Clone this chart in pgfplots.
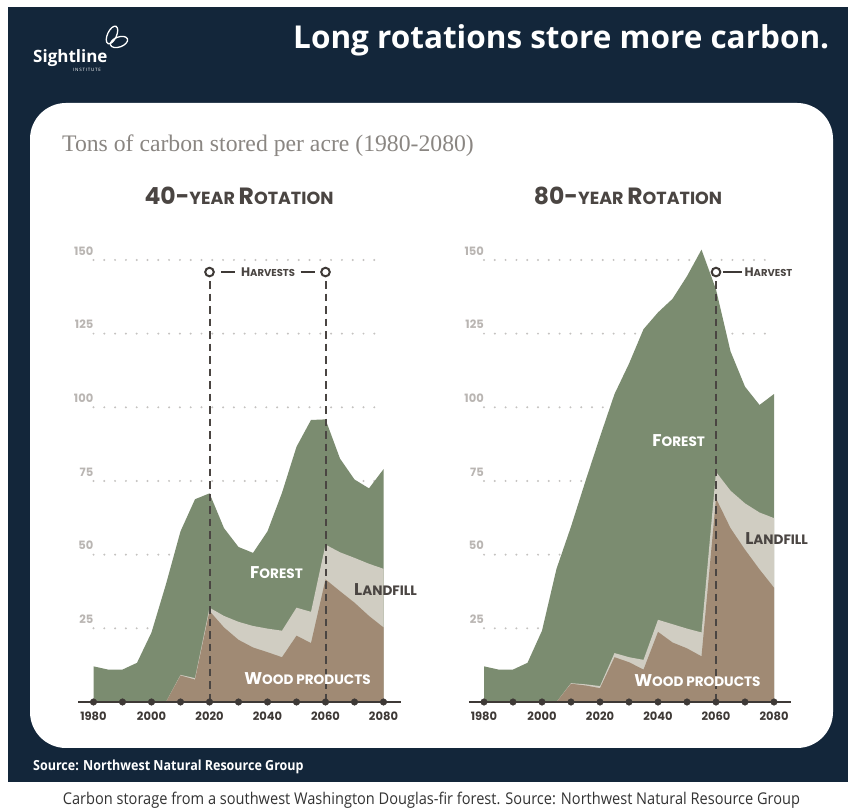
\documentclass[border=0pt]{standalone}
\usepackage{pgfplots}
\pgfplotsset{compat=1.18}
\usepackage{pgfplotstable}
\usepackage{fontspec}
\setmainfont{Open Sans}
\newfontfamily\pop{Poppins}
\newfontfamily\serifhead{Liberation Serif}
\newfontfamily\capfont[FakeStretch=0.9]{Open Sans}

\definecolor{navy}{HTML}{13263A}
\definecolor{forest}{HTML}{7B8C70}
\definecolor{wood}{HTML}{A08A74}
\definecolor{landfill}{HTML}{D0CDC2}
\definecolor{axisdark}{HTML}{3E3936}
\definecolor{textdark}{HTML}{4A4542}
\definecolor{gridgray}{HTML}{C4C2C0}
\definecolor{ylab}{HTML}{B9B5B2}
\definecolor{subgray}{HTML}{8A8682}

\newcommand{\fs}[2]{{\fontsize{#1}{#1}\selectfont #2}}

% 40-year rotation: tons of carbon per acre
\pgfplotstableread{
year total
1980 12.1
1985 11.0
1990 11.0
1995 13.3
2000 23.6
2005 40.0
2010 57.9
2015 68.8
2020 70.8
2025 59.0
2030 52.6
2035 50.6
2040 57.9
2045 71.0
2050 86.6
2055 95.7
2060 95.9
2065 82.6
2070 75.5
2075 72.5
2080 79.0
}\leftforest
\pgfplotstableread{
year top
2005 0
2010 9.2
2015 8.1
2020 32.0
2025 29.2
2030 27.2
2035 25.8
2040 24.9
2045 24.2
2050 32.0
2055 30.6
2060 53.4
2065 50.8
2070 48.9
2075 46.9
2080 45.2
}\leftlandfill
\pgfplotstableread{
year top
2005 0
2010 9.0
2015 7.6
2020 30.9
2025 25.3
2030 21.1
2035 18.5
2040 16.9
2045 15.2
2050 22.5
2055 20.0
2060 41.6
2065 37.6
2070 33.7
2075 29.2
2080 25.3
}\leftwood

% 80-year rotation
\pgfplotstableread{
year total
1980 12.1
1985 11.0
1990 11.0
1995 13.3
2000 24.2
2005 45.2
2010 59.5
2015 75.0
2020 90.0
2025 104.5
2030 114.8
2035 126.5
2040 132.2
2045 136.8
2050 144.5
2055 153.5
2060 140.0
2065 119.0
2070 107.0
2075 100.8
2080 104.5
}\rightforest
\pgfplotstableread{
year top
2005 0
2010 6.4
2015 6.0
2020 5.4
2025 16.6
2030 15.2
2035 14.3
2040 27.9
2045 26.4
2050 24.9
2055 23.6
2060 78.1
2065 71.7
2070 67.4
2075 64.3
2080 62.4
}\rightlandfill
\pgfplotstableread{
year top
2005 0
2010 6.2
2015 5.6
2020 4.7
2025 15.2
2030 13.5
2035 11.0
2040 23.8
2045 20.2
2050 18.2
2055 15.5
2060 69.1
2065 59.0
2070 51.7
2075 45.0
2080 38.8
}\rightwood

\pgfplotsset{
  rotationaxis/.style={
    scale only axis, width=290pt, height=471.5pt,
    anchor=south west,
    xmin=1980, xmax=2080, ymin=0, ymax=160,
    clip=false,
    axis line style={draw=none},
    major tick length=0pt,
    tick style={draw=none},
    xtick={1980,2000,...,2080},
    ytick={25,50,...,150},
    ymajorgrids,
    grid style={line width=2.2pt, line cap=round, dash pattern=on 0pt off 10.8pt, gridgray},
    /pgf/number format/1000 sep={},
    /pgf/number format/assume math mode=true,
    ticklabel style={font=\pop\bfseries\fontsize{11.5}{12}\selectfont},
    xticklabel style={text=axisdark, anchor=base, yshift=-18.5pt},
    yticklabel style={text=ylab, anchor=south east, inner sep=0pt, yshift=4.5pt},
  },
  forestarea/.style={fill=forest, draw=none},
  landfillarea/.style={fill=landfill, draw=none},
  woodarea/.style={fill=wood, draw=none},
  harvestline/.style={textdark, line width=2pt, dash pattern=on 7.5pt off 5pt},
  harvestmark/.style={only marks, mark=*, mark size=4.3pt,
    mark options={fill=white, draw=axisdark, line width=2pt}},
  baseline/.style={axisdark, line width=2.3pt},
  decadedots/.style={only marks, mark=*, mark size=3.3pt, axisdark},
}

\begin{document}
\begin{tikzpicture}[x=1pt,y=1pt]
\path[use as bounding box] (0,0) rectangle (848,810);
\fill[white] (0,0) rectangle (848,810);
\fill[navy] (8,28) rectangle (848,803);
\fill[white, rounded corners=36pt] (30,62) rectangle (833,707);

% logo
\draw[white, line width=1.3pt, rotate around={-25:(112,775)}] (112,775) ellipse (4.5 and 9.5);
\draw[white, line width=1.3pt, rotate around={20:(119,768)}] (119,768) ellipse (9 and 5);
\node[anchor=base west, inner sep=0pt, text=white] at (33,747.7) {\bfseries\fontsize{17}{17}\selectfont Sightline};
\node[anchor=base west, inner sep=0pt, text=white] at (73,738.5) {\fontsize{4.5}{5}\selectfont I\,N\,S\,T\,I\,T\,U\,T\,E};

% headline
\node[anchor=base west, inner sep=0pt, text=white] at (293,761.7) {\bfseries\fontsize{31.5}{32}\selectfont Long rotations store more carbon.};

% panel title
\node[anchor=base west, inner sep=0pt, text=subgray] at (62,658) {\serifhead\fontsize{23.7}{25}\selectfont Tons of carbon stored per acre (1980-2080)};

% chart titles
\node[inner sep=0pt, text=textdark] at (239,613.7) {\pop\bfseries\fs{23.5}{40-}\fs{17.5}{YEAR }\fs{23.5}{R}\fs{17.5}{OTATION}};
\node[inner sep=0pt, text=textdark] at (628,613.7) {\pop\bfseries\fs{23.5}{80-}\fs{17.5}{YEAR }\fs{23.5}{R}\fs{17.5}{OTATION}};

% ---------- 40-year rotation ----------
\begin{axis}[rotationaxis, at={(93.5pt,108pt)}]
\addplot[forestarea] table[x=year,y=total] {\leftforest} \closedcycle;
\addplot[landfillarea] table[x=year,y=top] {\leftlandfill} \closedcycle;
\addplot[woodarea] table[x=year,y=top] {\leftwood} \closedcycle;
\addplot[harvestline] coordinates {(2020,142.8) (2020,0)};
\addplot[harvestline] coordinates {(2060,142.8) (2060,0)};
\addplot[baseline] coordinates {(1974.8,0) (2086,0)};
\addplot[decadedots] coordinates {(1980,0) (1990,0) (2000,0) (2010,0) (2020,0) (2030,0) (2040,0) (2050,0) (2060,0) (2070,0) (2080,0)};
\addplot[harvestmark] coordinates {(2020,145.9) (2060,145.9)};
\draw[axisdark, line width=1.8pt] (axis cs:2024,145.9) -- (axis cs:2028.9,145.9);
\draw[axisdark, line width=1.8pt] (axis cs:2051.4,145.9) -- (axis cs:2056.3,145.9);
\node[text=textdark, inner sep=0pt] at (axis cs:2040.2,145.9) {\pop\bfseries\fs{12.4}{H}\fs{10}{ARVESTS}};
\node[text=white, inner sep=0pt] at (axis cs:2043.1,43.8) {\pop\bfseries\fs{17}{F}\fs{13.6}{OREST}};
\node[text=white, inner sep=0pt] at (axis cs:2053.8,7.8) {\pop\bfseries\fs{17}{W}\fs{13.6}{OOD PRODUCTS}};
\node[text=textdark, inner sep=0pt] at (axis cs:2080.7,38.3) {\pop\bfseries\fs{17}{L}\fs{13.6}{ANDFILL}};
\end{axis}

% ---------- 80-year rotation ----------
\begin{axis}[rotationaxis, at={(484pt,108pt)}]
\addplot[forestarea] table[x=year,y=total] {\rightforest} \closedcycle;
\addplot[landfillarea] table[x=year,y=top] {\rightlandfill} \closedcycle;
\addplot[woodarea] table[x=year,y=top] {\rightwood} \closedcycle;
\addplot[harvestline] coordinates {(2060,142.8) (2060,0)};
\addplot[baseline] coordinates {(1974.8,0) (2086,0)};
\addplot[decadedots] coordinates {(1980,0) (1990,0) (2000,0) (2010,0) (2020,0) (2030,0) (2040,0) (2050,0) (2060,0) (2070,0) (2080,0)};
\addplot[harvestmark] coordinates {(2060,145.9)};
\draw[axisdark, line width=1.8pt] (axis cs:2062.4,145.9) -- (axis cs:2068.9,145.9);
\node[text=textdark, inner sep=0pt, anchor=west] at (axis cs:2069.8,145.9) {\pop\bfseries\fs{12.4}{H}\fs{10}{ARVEST}};
\node[text=white, inner sep=0pt] at (axis cs:2047.1,88.6) {\pop\bfseries\fs{17}{F}\fs{13.6}{OREST}};
\node[text=white, inner sep=0pt] at (axis cs:2053.6,7.1) {\pop\bfseries\fs{17}{W}\fs{13.6}{OOD PRODUCTS}};
\node[text=textdark, inner sep=0pt] at (axis cs:2080.9,55.6) {\pop\bfseries\fs{17}{L}\fs{13.6}{ANDFILL}};
\end{axis}

% source and caption
\node[anchor=base west, inner sep=0pt, text=white] at (33,39.3) {\capfont\bfseries\fontsize{13.9}{14}\selectfont Source: Northwest Natural Resource Group};
\node[anchor=base, inner sep=0pt, text=black!80] at (431.5,5) {\capfont\fontsize{16.2}{17}\selectfont Carbon storage from a southwest Washington Douglas-fir forest. Source: Northwest Natural Resource Group};
\end{tikzpicture}
\end{document}
